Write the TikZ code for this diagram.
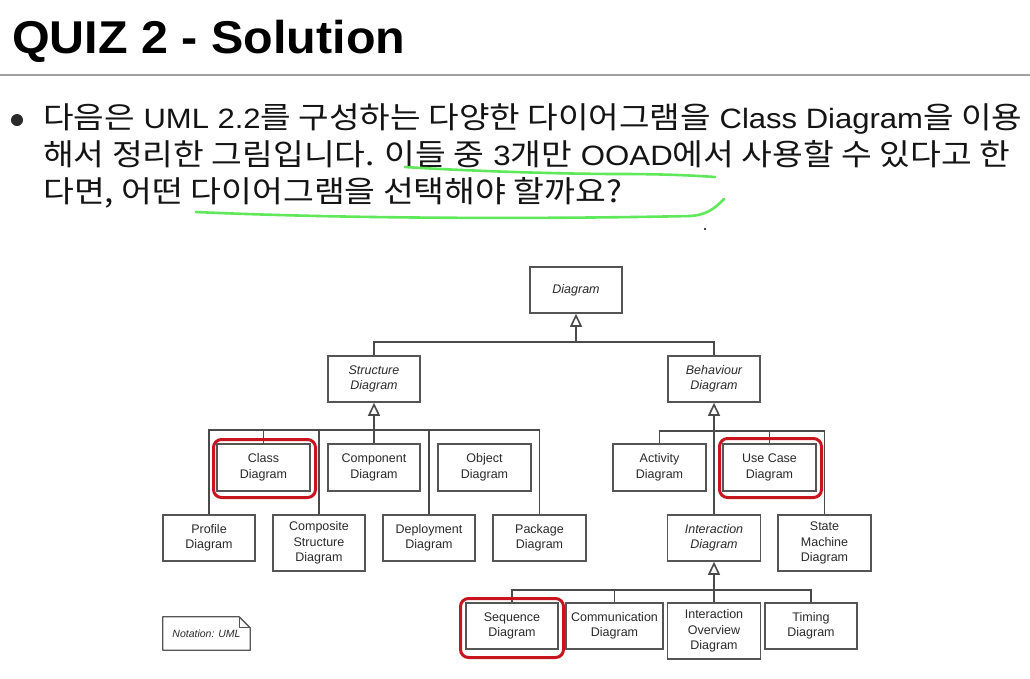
\documentclass[tikz,border=0pt]{standalone}
\usepackage{graphicx}
\usepackage{fontspec}
\setmainfont{Liberation Sans}
\newfontfamily\kr{Noto Sans CJK KR}
\usetikzlibrary{arrows.meta}
\definecolor{boxgray}{HTML}{555555}
\definecolor{linegray}{HTML}{4A4A4A}
\definecolor{textgray}{HTML}{2A2A2A}
\definecolor{hlred}{HTML}{C8141E}
\definecolor{pengreen}{HTML}{5EE85A}
\definecolor{rulegray}{HTML}{A0A0A0}
\newcommand{\K}[1]{{\kr\fontsize{30}{32}\selectfont #1}}
\begin{document}
\begin{tikzpicture}[x=1pt,y=-1pt,
  box/.style={draw=boxgray, line width=1.6pt, fill=white, inner sep=0pt, align=center,
    font=\fontsize{12.5}{15.5}\selectfont, text=textgray},
  ibox/.style={box, font=\fontsize{12.5}{15.5}\selectfont\itshape},
  conn/.style={draw=linegray, line width=1.6pt},
  gen/.style={conn, -{Triangle[open, length=13pt, width=12pt, fill=white]}},
  hl/.style={draw=hlred, line width=3pt, rounded corners=8pt},
  pen/.style={draw=pengreen, line width=2.6pt, line cap=round, line join=round},
  bodyline/.style={anchor=base west, inner sep=0pt, text=black!92, font=\fontsize{28}{30}\selectfont}
]
\useasboundingbox[fill=white] (0,0) rectangle (1030,678);

% title
\node[anchor=base west, inner sep=0pt, font=\bfseries\fontsize{46}{50}\selectfont] (title) at (12,53)
  {\resizebox{393pt}{\height}{QUIZ 2 - Solution}};
\draw[rulegray, line width=2.5pt] (0,75) -- (1030,75);

% bullet text
\fill[textgray] (17,120) circle (6);
\node[bodyline] (l1) at (43,128) {\resizebox{979pt}{\height}{\K{다음은} UML 2.2\K{를 구성하는 다양한 다이어그램을} Class Diagram\K{을 이용}}};
\node[bodyline] (l2) at (43,165) {\resizebox{967pt}{\height}{\K{해서 정리한 그림입니다. 이들 중} 3\K{개만} OOAD\K{에서 사용할 수 있다고 한}}};
\node[bodyline] (l3) at (43,202) {\resizebox{579pt}{\height}{\K{다면, 어떤 다이어그램을 선택해야 할까요?}}};

% green pen strokes
\draw[pen] (405,167) .. controls (450,170) and (550,174) .. (620,174) .. controls (670,174) and (700,176) .. (715,177);
\draw[pen] (196,212) .. controls (350,219) and (550,219) .. (690,216) .. controls (708,215) and (716,207) .. (724,199);
\fill[black] (705,229) circle (1.1);

% boxes
\node[ibox, minimum width=92pt, minimum height=46pt] (diag) at (576,290) {Diagram};
\node[ibox, minimum width=92pt, minimum height=46pt] (struct) at (374,379) {Structure\\Diagram};
\node[ibox, minimum width=92pt, minimum height=46pt] (behav) at (714,379) {Behaviour\\Diagram};

\node[box, minimum width=93pt, minimum height=47pt] (class) at (263.5,467.5) {Class\\Diagram};
\node[box, minimum width=92pt, minimum height=47pt] (component) at (374,467.5) {Component\\Diagram};
\node[box, minimum width=93pt, minimum height=47pt] (object) at (484.5,467.5) {Object\\Diagram};
\node[box, minimum width=92pt, minimum height=46pt] (profile) at (209,538) {Profile\\Diagram};
\node[box, minimum width=92pt, minimum height=56pt] (composite) at (319,543) {Composite\\Structure\\Diagram};
\node[box, minimum width=92pt, minimum height=46pt] (deployment) at (429,538) {Deployment\\Diagram};
\node[box, minimum width=93pt, minimum height=46pt] (package) at (539.5,538) {Package\\Diagram};

\node[box, minimum width=93pt, minimum height=47pt] (activity) at (659.5,467.5) {Activity\\Diagram};
\node[box, minimum width=93pt, minimum height=47pt] (usecase) at (769.5,467.5) {Use Case\\Diagram};
\node[ibox, minimum width=93pt, minimum height=46pt] (interaction) at (714,538) {Interaction\\Diagram};
\node[box, minimum width=93pt, minimum height=56pt] (statemachine) at (824.5,543) {State\\Machine\\Diagram};

\node[box, minimum width=92pt, minimum height=46pt] (sequence) at (512,626) {Sequence\\Diagram};
\node[box, minimum width=97pt, minimum height=46pt] (communication) at (614.5,626) {Communication\\Diagram};
\node[box, minimum width=93pt, minimum height=56pt] (interov) at (714,631) {Interaction\\Overview\\Diagram};
\node[box, minimum width=92pt, minimum height=46pt] (timing) at (811,626) {Timing\\Diagram};

% connectors: Diagram
\coordinate (jD) at (576,342);
\draw[conn] (struct.north) |- (jD) -| (behav.north);
\draw[gen] (jD) -- (diag.south);

% Structure
\coordinate (jS) at (374,430);
\draw[gen] (jS) -- (struct.south);
\draw[conn] (profile.north) |- (jS) -| (package.north);
\draw[conn] (class.north) -- (class.north |- jS);
\draw[conn] (composite.north) -- (composite.north |- jS);
\draw[conn] (component.north) -- (jS);
\draw[conn] (deployment.north) -- (deployment.north |- jS);

% Behaviour
\coordinate (jB) at (714,431);
\draw[gen] (jB) -- (behav.south);
\draw[conn] (activity.north) |- (jB) -| (statemachine.north);
\draw[conn] (usecase.north) -- (usecase.north |- jB);
\draw[conn] (interaction.north) -- (jB);

% Interaction
\coordinate (jI) at (714,590);
\draw[gen] (jI) -- (interaction.south);
\draw[conn] (sequence.north) |- (jI) -| (timing.north);
\draw[conn] (communication.north) -- (communication.north |- jI);
\draw[conn] (interov.north) -- (jI);

% highlights
\draw[hl] (213.5,439.5) rectangle (315.5,497.5);
\draw[hl] (719.5,438.5) rectangle (821.5,497.5);
\draw[hl] (460.5,598.5) rectangle (563.5,657.5);

% note
\node[inner sep=0pt, minimum width=87pt, minimum height=33pt, text=textgray,
  font=\fontsize{10.5}{12}\selectfont\itshape] (note) at (206.5,633.5) {Notation: UML};
\draw[boxgray, line width=1.3pt, line join=round]
  (note.north west) -- ([xshift=-11pt]note.north east) -- ([yshift=-11pt]note.north east)
  -- (note.south east) -- (note.south west) -- cycle;
\draw[boxgray, line width=1.3pt, line join=round]
  ([xshift=-11pt]note.north east) -- ([xshift=-11pt,yshift=-11pt]note.north east) -- ([yshift=-11pt]note.north east);
\end{tikzpicture}
\end{document}
